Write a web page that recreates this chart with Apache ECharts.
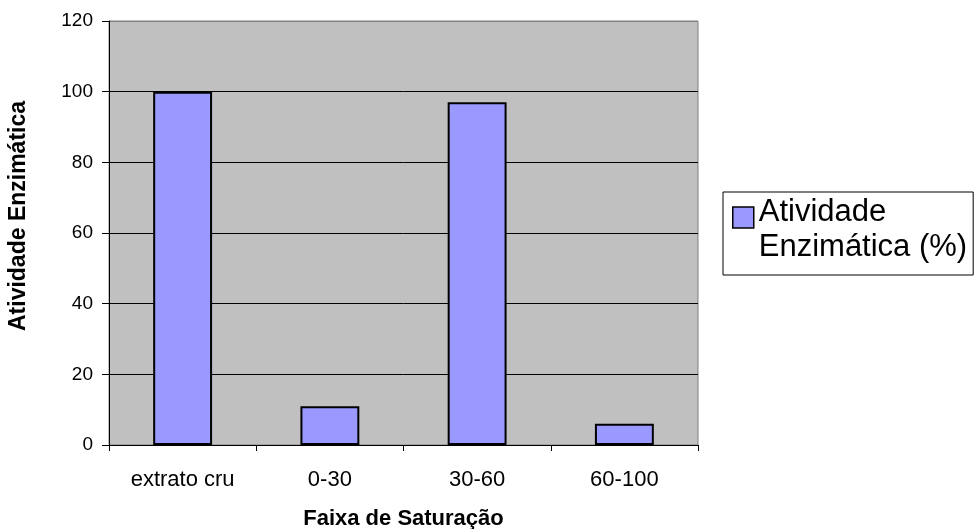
<!DOCTYPE html>
<html>
<head>
<meta charset="utf-8">
<script src="https://cdn.jsdelivr.net/npm/echarts@6/dist/echarts.min.js"></script>
<style>
  html, body { margin: 0; padding: 0; background: #ffffff; }
  #chart { width: 975px; height: 529px; }
</style>
</head>
<body>
<div id="chart"></div>
<script>
// Enzyme activity by ammonium sulfate saturation range
const categories = ['extrato cru', '0-30', '30-60', '60-100'];
const activity = [100, 11, 97, 6];
const seriesName = 'Atividade\nEnzimática (%)';
const yTicks = { min: 0, max: 120, interval: 20 };

const font = 'Liberation Sans, Arial, sans-serif';
const chart = echarts.init(document.getElementById('chart'), null, { renderer: 'canvas' });

chart.setOption({
  animation: false,
  backgroundColor: '#ffffff',
  textStyle: { fontFamily: font },
  grid: {
    left: 109, right: 277, top: 21, bottom: 84,
    outerBoundsMode: 'none',
    containLabel: false,
    show: true,
    backgroundColor: '#c0c0c0',
    borderColor: '#808080',
    borderWidth: 1
  },
  legend: {
    left: 723,
    top: 192,
    orient: 'vertical',
    padding: [3, 6, 10, 9],
    backgroundColor: '#ffffff',
    borderColor: '#000000',
    borderWidth: 1,
    borderRadius: 0,
    itemWidth: 21,
    itemHeight: 56,
    // swatch sits beside the first line of the two-line label
    icon: 'path://M0,0 M0,5H21V26H0Z M0,56',
    itemStyle: { color: '#9999ff', borderColor: '#000000', borderWidth: 1.5 },
    textStyle: { fontFamily: font, fontSize: 31, lineHeight: 35, color: '#000000' },
    data: [seriesName]
  },
  xAxis: {
    type: 'category',
    data: categories,
    name: 'Faixa de Saturação',
    nameLocation: 'middle',
    nameGap: 63,
    nameTextStyle: { fontFamily: font, fontSize: 22, fontWeight: 'bold', color: '#000000' },
    axisLine: { lineStyle: { color: '#000000', width: 1 } },
    axisTick: { show: true, length: 6, alignWithLabel: false, lineStyle: { color: '#000000' } },
    axisLabel: { fontFamily: font, fontSize: 22, color: '#000000', margin: 24 },
    splitLine: { show: false }
  },
  yAxis: {
    type: 'value',
    min: yTicks.min,
    max: yTicks.max,
    interval: yTicks.interval,
    name: 'Atividade Enzimática',
    nameLocation: 'middle',
    nameGap: 79,
    nameTextStyle: {
      fontFamily: font, fontSize: 23, fontWeight: 'bold', color: '#000000',
      padding: [0, 0, 0, 34]
    },
    axisLine: { show: true, lineStyle: { color: '#000000', width: 1 } },
    axisTick: { show: true, length: 7, lineStyle: { color: '#000000' } },
    axisLabel: { fontFamily: font, fontSize: 19, color: '#000000', margin: 16 },
    splitLine: {
      show: true,
      lineStyle: {
        color: ['#000000', '#000000', '#000000', '#000000', '#000000', '#000000', '#808080'],
        width: 1
      }
    }
  },
  series: [{
    name: seriesName,
    type: 'bar',
    data: activity,
    barWidth: '40%',
    itemStyle: { color: '#9999ff', borderColor: '#000000', borderWidth: 2 }
  }]
});
</script>
</body>
</html>
